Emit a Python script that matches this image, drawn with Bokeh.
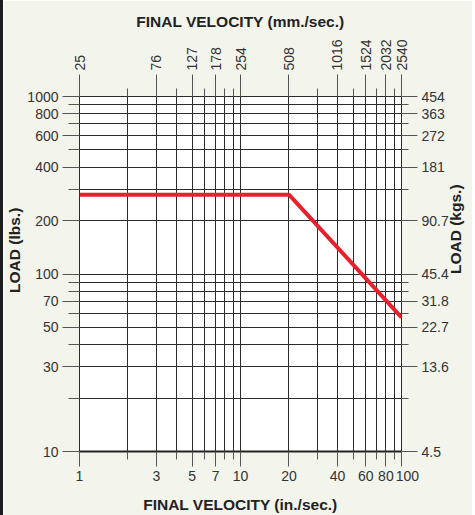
import math
from bokeh.plotting import figure
from bokeh.models import LogAxis, FixedTicker, Range1d
from bokeh.embed import file_html
from bokeh.resources import INLINE

# ---- data ----
velocity_in = [1, 20, 100]          # in./sec.
load_lbs = [280, 280, 57]           # lbs.

x_major = [1, 3, 5, 7, 10, 20, 40, 60, 80, 100]
x_minor = [2, 4, 6, 8, 9, 30, 50, 70, 90]
x_in_labels = ["1", "3", "5", "7", "10", "20", "40", "60", "80", "\u00a0\u00a0\u00a0100"]
x_mm_labels = ["25", "76", "127", "178", "254", "508", "1016", "1524", "2032", "2540"]

y_major = [10, 30, 50, 70, 100, 200, 400, 600, 800, 1000]
y_minor = [20, 40, 60, 80, 90, 300, 500, 700, 900]
y_lbs_labels = ["10", "30", "50", "70", "100", "200", "400", "600", "800", "1000"]
y_kg_labels = ["4.5", "13.6", "22.7", "31.8", "45.4", "90.7", "181", "272", "363", "454"]

x_lo, x_hi = 1, 100
y_lo, y_hi = 10, 1000

BG = "#f3f5ec"
GRID = "#2b2b2b"
TICK = "#555555"
TXT = "#333333"
FONT = "Liberation Sans"

p = figure(width=472, height=515, x_axis_type="log", y_axis_type="log",
           x_range=Range1d(x_lo, x_hi), y_range=Range1d(y_lo, y_hi),
           output_backend="svg", toolbar_location=None,
           min_border_left=76, min_border_right=72, min_border_top=96, min_border_bottom=60,
           background_fill_color="white", border_fill_color=BG)
p.styles = {"border-left": "3px solid #1c1c1c"}
p.outline_line_color = GRID
p.outline_line_width = 1

top = LogAxis()
right = LogAxis()
p.add_layout(top, "above")
p.add_layout(right, "right")

bottom = p.below[0]
left = p.left[0]

def style_axis(ax, major, minor, labels, tick_out, minor_out, standoff, title, title_standoff):
    ax.ticker = FixedTicker(ticks=major, minor_ticks=minor)
    ax.major_label_overrides = {float(v): s for v, s in zip(major, labels)}
    ax.major_tick_in = 0
    ax.minor_tick_in = 0
    ax.major_tick_out = tick_out
    ax.minor_tick_out = minor_out
    ax.major_tick_line_color = TICK
    ax.minor_tick_line_color = TICK
    ax.axis_line_color = None
    ax.major_label_text_font = FONT
    ax.major_label_text_font_size = "14px"
    ax.major_label_text_color = TXT
    ax.major_label_standoff = standoff
    ax.axis_label = title
    ax.axis_label_standoff = title_standoff
    ax.axis_label_text_font = FONT
    ax.axis_label_text_font_size = "15.5px"
    ax.axis_label_text_font_style = "bold"
    ax.axis_label_text_color = "#222222"

pad = "\u00a0" * 11
style_axis(bottom, x_major, x_minor, x_in_labels, 15, 8, 1,
           "FINAL VELOCITY (in./sec.)", 9)
style_axis(top, x_major, x_minor, x_mm_labels, 22, 8, 4,
           "FINAL VELOCITY (mm./sec.)", 6)
style_axis(left, y_major, y_minor, y_lbs_labels, 17, 11, 4,
           pad + "LOAD (lbs.)", 1)
style_axis(right, y_major, y_minor, y_kg_labels, 16, 7, 4,
           "LOAD (kgs.)", 4)
top.major_label_orientation = "vertical"
if "axis_label_orientation" in right.properties():
    right.axis_label_orientation = math.pi / 2
bottom.axis_line_color = "#222222"
bottom.axis_line_width = 2

p.xgrid.ticker = FixedTicker(ticks=sorted(x_major + x_minor))
p.ygrid.ticker = FixedTicker(ticks=sorted(y_major + y_minor))
for g in (p.xgrid, p.ygrid):
    g.grid_line_color = GRID
    g.grid_line_width = 1
    g.grid_line_alpha = 1

p.line(velocity_in, load_lbs, line_color="#e8202c", line_width=4)

open("out.html", "w").write(file_html(p, INLINE))
